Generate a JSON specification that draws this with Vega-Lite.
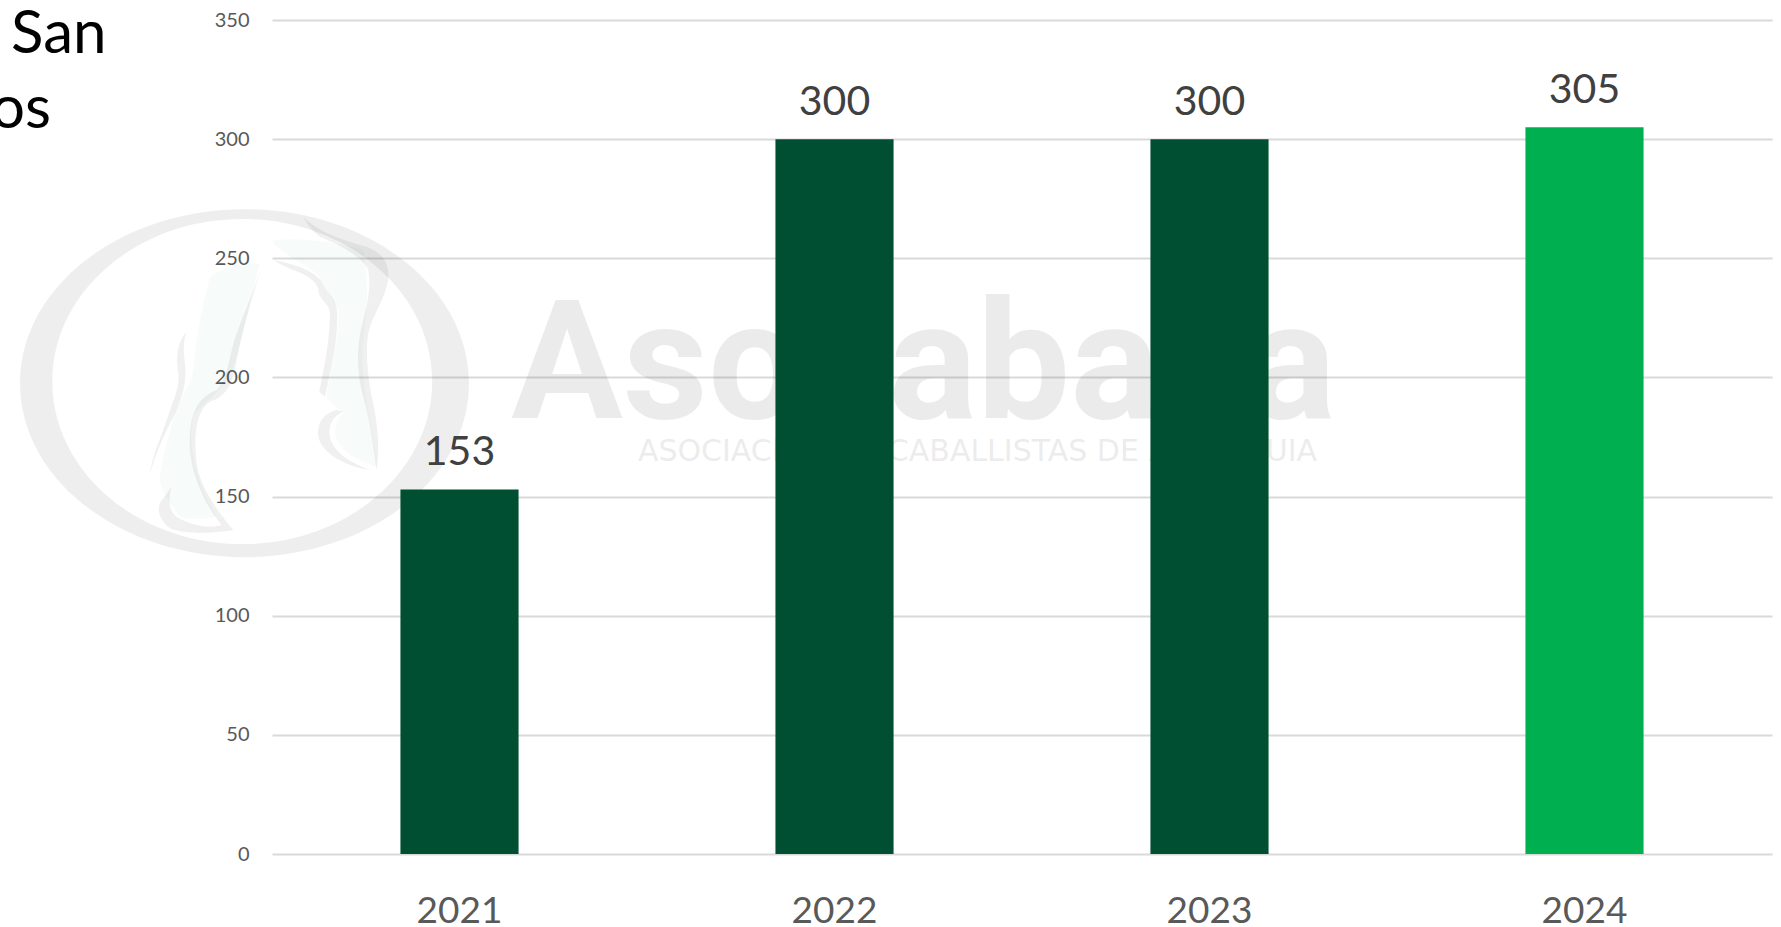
{
"$schema":"https://vega.github.io/schema/vega-lite/v6.json",
"width":1500,"height":834,
"autosize":{"type":"none"},
"padding":{"left":272,"top":20,"right":9,"bottom":73},
"background":"white",
"config":{"view":{"stroke":null}},
"title":{"text":"San","anchor":"start","frame":"group","align":"left","baseline":"alphabetic","dx":-261,"dy":103,"offset":0,"fontSize":60,"font":"Lato","fontWeight":"normal","color":"#000000"},
"data":{"values":[
{"year":"2021","value":153,"serie":"prev"},
{"year":"2022","value":300,"serie":"prev"},
{"year":"2023","value":300,"serie":"prev"},
{"year":"2024","value":305,"serie":"last"}
]},
"encoding":{
"x":{"field":"year","type":"nominal","title":null,"scale":{"paddingInner":0.685,"paddingOuter":0.3425},
 "axis":{"labelAngle":0,"labelFont":"Lato","labelFontSize":37,"labelColor":"#595959","labelPadding":39,"ticks":false,"domain":false,"grid":false}},
"y":{"field":"value","type":"quantitative","title":null,"scale":{"domain":[0,350],"nice":false},
 "axis":{"values":[0,50,100,150,200,250,300,350],"labelFont":"Lato","labelFontSize":20,"labelColor":"#595959","labelPadding":23,"ticks":false,"domain":false,"grid":true,"gridColor":"#d9d9d9","gridWidth":2}}
},
"layer":[
{"data":{"values":[{"year":"2021","value":197.6}]},
 "mark":{"type":"point","filled":true,"clip":false,"color":"#000000","opacity":0.065,"xOffset":-215,"size":201600,
 "shape":"M-1 0A1 .775 0 1 0 1 0A1 .775 0 1 0 -1 0ZM-.856 -.007A.846 .724 0 1 1 .836 -.007A.846 .724 0 1 1 -.856 -.007Z"}},
{"data":{"values":[{"year":"2021","value":274.4}]},
 "mark":{"type":"point","filled":true,"clip":false,"color":"#00a050","opacity":0.03,"xOffset":-329.5,"size":0.444,
 "shape":"M240 230C290 190 350 190 390 190C360 300 340 400 320 470C290 580 220 600 190 650C175 720 185 820 260 950C220 960 170 960 150 950C110 900 85 860 90 830C100 750 120 700 130 650C160 580 190 540 190 500C200 400 220 300 240 230ZM430 120C520 110 640 130 700 150C720 260 710 340 700 420C690 500 710 600 720 660C730 720 740 770 740 800C700 790 640 760 620 720C610 690 620 650 640 640C620 620 600 610 590 590C600 500 630 420 625 330C600 290 590 260 560 220C520 190 470 170 430 130Z"}},
{"data":{"values":[{"year":"2021","value":274.4}]},
 "mark":{"type":"point","filled":true,"clip":false,"color":"#000000","opacity":0.06,"xOffset":-329.5,"size":0.444,
 "shape":"M400 185C370 280 340 380 320 480C310 550 290 590 240 605C200 630 190 700 200 790C210 860 260 930 310 990C250 1000 170 1005 120 985C85 960 75 920 100 895L125 860C115 900 115 930 140 950C190 980 240 985 275 975C220 910 170 800 180 700C185 630 210 590 260 570C295 540 300 450 320 400C350 320 380 250 400 185ZM170 395C145 420 135 470 145 520C150 560 130 600 110 660C90 720 65 770 60 825C75 760 110 690 140 630C165 570 170 530 165 490C160 450 160 420 170 395ZM520 50C570 100 640 120 710 140C760 160 780 190 775 240C765 300 730 340 715 400C705 460 715 540 730 610C745 680 750 750 740 810C730 740 720 660 700 590C680 520 680 440 695 380C710 320 725 270 715 210C700 170 620 130 570 110C545 90 530 70 520 50ZM430 180C480 190 550 205 580 250C590 280 620 290 622 340C625 420 600 520 590 570L585 590L568 575C580 520 600 420 600 340C600 310 565 300 565 265C550 220 470 210 430 180ZM620 630C580 640 560 670 565 710C575 760 650 800 720 810C670 790 610 760 600 710C595 680 605 650 640 635Z"}},
{"data":{"values":[{"year":"2022","value":183,"label":"Asocaballa"}]},
 "mark":{"type":"text","font":"Roboto","fontWeight":"bold","fontSize":166,"color":"#000000","opacity":0.075,"align":"center","baseline":"alphabetic","dx":89},
 "encoding":{"text":{"field":"label"}}},
{"data":{"values":[{"year":"2022","value":165,"label":"ASOCIACION DE CABALLISTAS DE ANTIOQUIA"}]},
 "mark":{"type":"text","font":"DejaVu Sans","fontSize":30,"color":"#000000","opacity":0.07,"align":"center","baseline":"alphabetic","dx":143},
 "encoding":{"text":{"field":"label"}}},
{"data":{"values":[{"year":"2021","value":304.7,"label":"os"}]},
 "mark":{"type":"text","font":"Lato","fontSize":60,"color":"#000000","align":"left","baseline":"alphabetic","dx":-468.5},
 "encoding":{"text":{"field":"label"}}},
{"mark":{"type":"bar"},
 "encoding":{"color":{"field":"serie","type":"nominal","legend":null,"scale":{"domain":["prev","last"],"range":["#004f32","#00b050"]}}}},
{"mark":{"type":"text","font":"Lato","fontSize":41,"color":"#404040","baseline":"alphabetic","dy":-24},
 "encoding":{"text":{"field":"value","type":"quantitative"}}}
]
}
